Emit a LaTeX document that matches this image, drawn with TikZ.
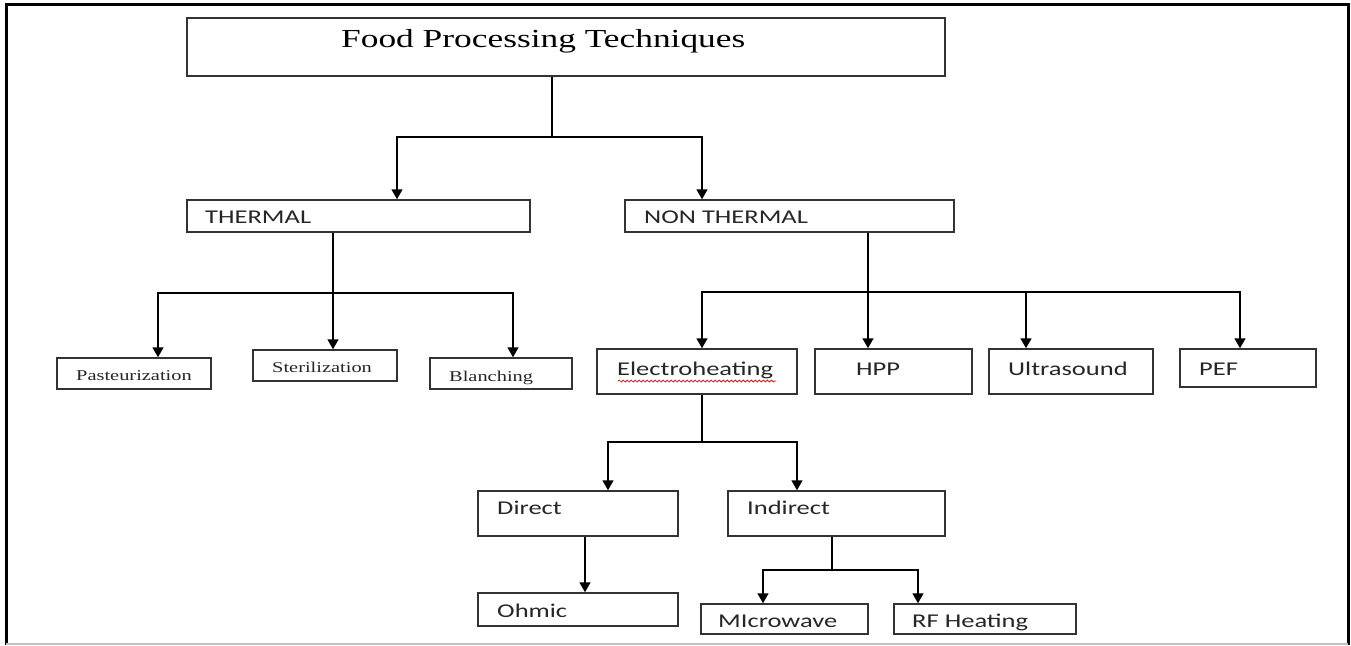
\documentclass[tikz,border=0pt]{standalone}
\usepackage{fontspec}
\usepackage{graphicx}
\setmainfont{Liberation Serif}
\newfontfamily\calfont{Carlito}
\usetikzlibrary{arrows.meta,fit,decorations.pathmorphing}
\tikzset{
  box/.style={draw=black!80, line width=1.5pt, inner sep=0pt, rectangle},
  conn/.style={draw=black, line width=1.5pt},
  arr/.style={conn, -{Triangle[width=11pt,length=10pt]}},
  lbl/.style={anchor=base west, inner sep=0pt, text=black!85},
  sanslbl/.style={lbl, font=\calfont\fontsize{19.5}{22}\selectfont},
  seriflbl/.style={lbl, font=\fontsize{15}{18}\selectfont},
  titlelbl/.style={lbl, text=black, font=\fontsize{26}{30}\selectfont},
}
\newcommand\sx[1]{\scalebox{1.36}[1]{#1}}
\begin{document}
\begin{tikzpicture}[x=1pt,y=-1pt]
\useasboundingbox (0,0) rectangle (1351,645);
% outer frame
\draw[black, line width=3pt] (6,645) -- (6,4) -- (1348,4) -- (1348,645);
\draw[black!25, line width=1.5pt] (6,644) -- (1348,644);

% boxes
\node[box, fit={(187,18) (945,76)}] (top) {};
\node[box, fit={(187,200) (530,232)}] (th) {};
\node[box, fit={(625,200) (954,232)}] (nt) {};
\node[box, fit={(57,358) (211,389)}] (past) {};
\node[box, fit={(253,350) (397,381)}] (ster) {};
\node[box, fit={(430,358) (572,389)}] (blan) {};
\node[box, fit={(597,349) (797,394)}] (elec) {};
\node[box, fit={(815,349) (972,394)}] (hpp) {};
\node[box, fit={(989,349) (1153,394)}] (ultra) {};
\node[box, fit={(1180,349) (1316,387)}] (pef) {};
\node[box, fit={(478,491) (678,536)}] (dir) {};
\node[box, fit={(728,491) (945,536)}] (ind) {};
\node[box, fit={(478,593) (678,626)}] (ohm) {};
\node[box, fit={(701,604) (868,634)}] (micro) {};
\node[box, fit={(894,604) (1076,634)}] (rf) {};

% labels
\node[titlelbl] (top-t) at (341,47) {\sx{Food Processing Techniques}};
\node[sanslbl] (th-t) at (205,223) {\sx{THERMAL}};
\node[sanslbl] (nt-t) at (644,223) {\sx{NON THERMAL}};
\node[seriflbl] (past-t) at (76,380) {\sx{Pasteurization}};
\node[seriflbl] (ster-t) at (272,372) {\sx{Sterilization}};
\node[seriflbl] (blan-t) at (449,381) {\sx{Blanching}};
\node[sanslbl] (elec-t) at (617,375) {\sx{Electroheating}};
\node[sanslbl] (hpp-t) at (856,375) {\sx{HPP}};
\node[sanslbl] (ultra-t) at (1008,375) {\sx{Ultrasound}};
\node[sanslbl] (pef-t) at (1199,375) {\sx{PEF}};
\node[sanslbl] (dir-t) at (497,514) {\sx{Direct}};
\node[sanslbl] (ind-t) at (747,514) {\sx{Indirect}};
\node[sanslbl] (ohm-t) at (497,617) {\sx{Ohmic}};
\begin{scope}
\clip (701,604) rectangle (1076,633);
\node[sanslbl] (micro-t) at (718,627) {\sx{MIcrowave}};
\node[sanslbl] (rf-t) at (912,627) {\sx{RF Heating}};
\end{scope}
% spell-check squiggle
\draw[red!80!black, line width=0.7pt, decorate, decoration={snake, amplitude=1pt, segment length=4pt}] (618,381) -- (776,381);

% junctions and arrow columns
\coordinate (j0) at (552,137);
\coordinate (c0a) at (397,0); \coordinate (c0b) at (702,0);
\coordinate (j1) at (333,293);
\coordinate (c1a) at (158,0); \coordinate (c1b) at (333,0); \coordinate (c1c) at (513,0);
\coordinate (j2) at (868,292);
\coordinate (c2a) at (702,0); \coordinate (c2b) at (868,0); \coordinate (c2c) at (1026,0); \coordinate (c2d) at (1240,0);
\coordinate (j3) at (702,442);
\coordinate (c3a) at (608,0); \coordinate (c3b) at (797,0);
\coordinate (c4) at (585,0);
\coordinate (j5) at (832,570);
\coordinate (c5a) at (763,0); \coordinate (c5b) at (918,0);

% connectors
\draw[conn] (top.south -| j0) -- (j0);
\draw[arr] (j0) -| (c0a |- th.north);
\draw[arr] (j0) -| (c0b |- nt.north);

\draw[conn] (th.south -| j1) -- (j1);
\draw[arr] (j1) -| (c1a |- past.north);
\draw[arr] (j1) -| (c1b |- ster.north);
\draw[arr] (j1) -| (c1c |- blan.north);

\draw[conn] (nt.south -| j2) -- (j2);
\draw[arr] (j2) -| (c2a |- elec.north);
\draw[arr] (j2) -| (c2b |- hpp.north);
\draw[arr] (j2) -| (c2c |- ultra.north);
\draw[arr] (j2) -| (c2d |- pef.north);

\draw[conn] (elec.south -| j3) -- (j3);
\draw[arr] (j3) -| (c3a |- dir.north);
\draw[arr] (j3) -| (c3b |- ind.north);

\draw[arr] (dir.south -| c4) -- (ohm.north -| c4);

\draw[conn] (ind.south -| j5) -- (j5);
\draw[arr] (j5) -| (c5a |- micro.north);
\draw[arr] (j5) -| (c5b |- rf.north);
\end{tikzpicture}
\end{document}
